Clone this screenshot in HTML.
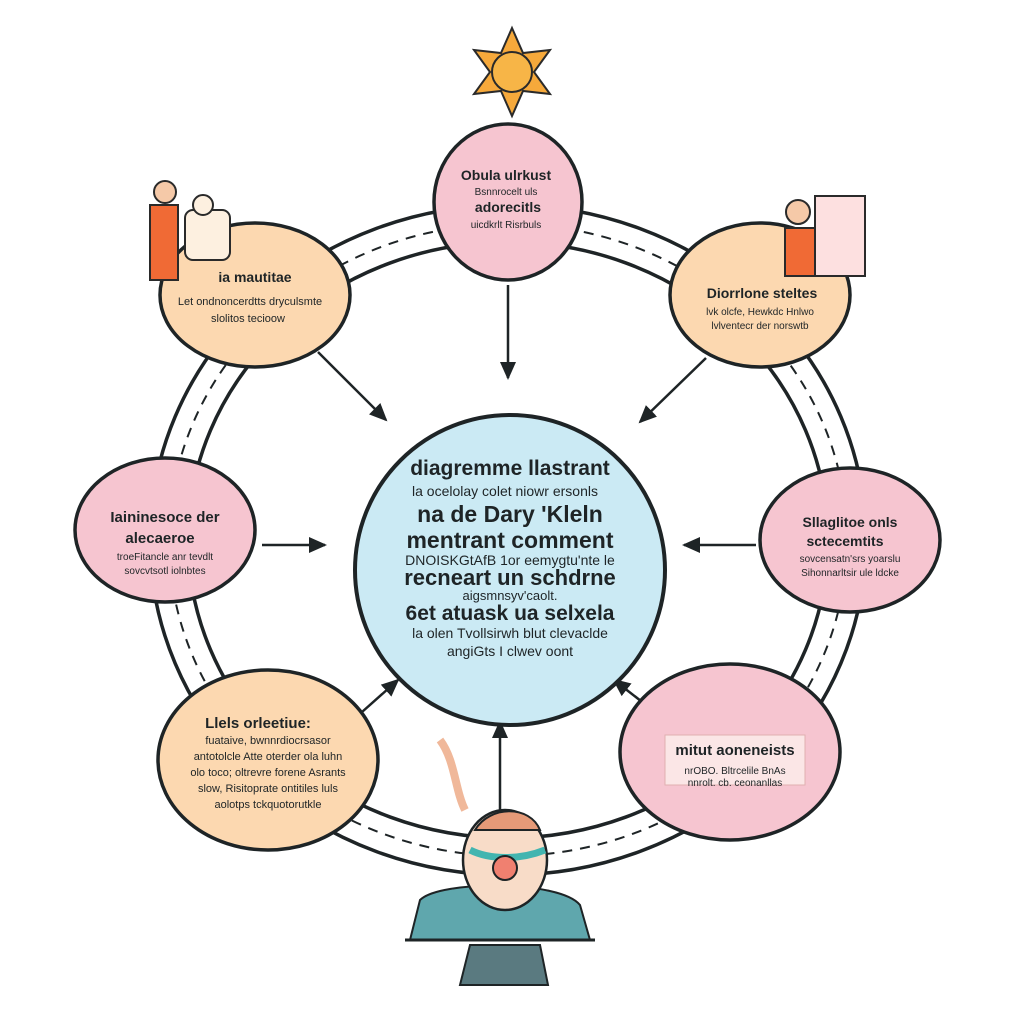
<!DOCTYPE html>
<html><head><meta charset="utf-8"><style>
html,body{margin:0;padding:0;background:#fff;width:1024px;height:1024px;overflow:hidden}
text{font-family:"Liberation Sans",sans-serif;fill:#1e2426;text-anchor:middle}
.b{font-weight:bold}
</style></head><body>
<svg width="1024" height="1024" viewBox="0 0 1024 1024" xmlns="http://www.w3.org/2000/svg">
<defs><marker id="ah" markerWidth="10" markerHeight="10" refX="8" refY="5" orient="auto" markerUnits="userSpaceOnUse"><path d="M0,0 L10,5 L0,10 z" fill="#1e2426"/></marker>
<marker id="ah2" markerWidth="20" markerHeight="20" refX="16" refY="10" orient="auto" markerUnits="userSpaceOnUse"><path d="M0,2 L18,10 L0,18 z" fill="#1e2426"/></marker></defs>
<!-- ring -->
<ellipse cx="508" cy="540" rx="358" ry="335" fill="none" stroke="#1e2426" stroke-width="3.5"/>
<ellipse cx="508" cy="540" rx="320" ry="298" fill="none" stroke="#1e2426" stroke-width="3.5"/>
<ellipse cx="508" cy="540" rx="339" ry="316" fill="none" stroke="#1e2426" stroke-width="2" stroke-dasharray="10 8"/>
<!-- sun -->
<g transform="translate(512,72)">
<polygon points="0,-44 11,-19 38,-22 22,0 38,22 11,19 0,44 -11,19 -38,22 -22,0 -38,-22 -11,-19" fill="#f6a93b" stroke="#2a2a2a" stroke-width="2"/>
<circle r="20" fill="#f7b547" stroke="#2a2a2a" stroke-width="2"/></g>
<!-- arrows -->
<g stroke="#1e2426" stroke-width="2.5" fill="none" marker-end="url(#ah2)">
<line x1="508" y1="285" x2="508" y2="378"/>
<line x1="318" y1="352" x2="386" y2="420"/>
<line x1="706" y1="358" x2="640" y2="422"/>
<line x1="262" y1="545" x2="325" y2="545"/>
<line x1="756" y1="545" x2="684" y2="545"/>
<line x1="362" y1="712" x2="398" y2="680"/>
<line x1="655" y1="712" x2="614" y2="680"/>
<line x1="500" y1="810" x2="500" y2="722"/>
</g>
<!-- center -->
<circle cx="510" cy="570" r="155" fill="#cbeaf4" stroke="#1e2426" stroke-width="4"/>
<text class="b" x="510" y="475" font-size="21">diagremme llastrant</text>
<text x="505" y="496" font-size="14">la ocelolay colet niowr ersonls</text>
<text class="b" x="510" y="522" font-size="23">na de Dary 'Kleln</text>
<text class="b" x="510" y="548" font-size="23">mentrant comment</text>
<text x="510" y="565" font-size="14">DNOISKGtAfB 1or eemygtu'nte le</text>
<text class="b" x="510" y="585" font-size="22">recneart un schdrne</text>
<text x="510" y="600" font-size="13">aigsmnsyv'caolt.</text>
<text class="b" x="510" y="620" font-size="21">6et atuask ua selxela</text>
<text x="510" y="638" font-size="14">la olen Tvollsirwh blut clevaclde</text>
<text x="510" y="656" font-size="14">angiGts I clwev oont</text>
<!-- nodes -->
<g stroke="#1e2426" stroke-width="3.5">
<ellipse cx="508" cy="202" rx="74" ry="78" fill="#f6c5d0"/>
<ellipse cx="255" cy="295" rx="95" ry="72" fill="#fcd8b0"/>
<ellipse cx="760" cy="295" rx="90" ry="72" fill="#fcd8b0"/>
<ellipse cx="165" cy="530" rx="90" ry="72" fill="#f6c5d0"/>
<ellipse cx="850" cy="540" rx="90" ry="72" fill="#f6c5d0"/>
<ellipse cx="268" cy="760" rx="110" ry="90" fill="#fcd8b0"/>
<ellipse cx="730" cy="752" rx="110" ry="88" fill="#f6c5d0"/>
</g>
<text class="b" x="506" y="180" font-size="14">Obula ulrkust</text>
<text x="506" y="195" font-size="10">Bsnnrocelt uls</text>
<text class="b" x="508" y="212" font-size="14">adorecitls</text>
<text x="506" y="228" font-size="10">uicdkrlt Risrbuls</text>
<text class="b" x="255" y="282" font-size="14">ia mautitae</text>
<text x="250" y="305" font-size="11">Let ondnoncerdtts dryculsmte</text>
<text x="248" y="322" font-size="11">slolitos tecioow</text>
<text class="b" x="762" y="298" font-size="14">Diorrlone steltes</text>
<text x="760" y="315" font-size="10">lvk olcfe, Hewkdc Hnlwo</text>
<text x="760" y="329" font-size="10">lvlventecr der norswtb</text>
<text class="b" x="165" y="522" font-size="15">Iaininesoce der</text>
<text class="b" x="160" y="543" font-size="15">alecaeroe</text>
<text x="165" y="560" font-size="10">troeFitancle anr tevdlt</text>
<text x="165" y="574" font-size="10">sovcvtsotl iolnbtes</text>
<text class="b" x="850" y="527" font-size="14">Sllaglitoe onls</text>
<text class="b" x="845" y="546" font-size="14">sctecemtits</text>
<text x="850" y="562" font-size="10">sovcensatn'srs yoarslu</text>
<text x="850" y="576" font-size="10">Sihonnarltsir ule ldcke</text>
<text class="b" x="258" y="728" font-size="15">Llels orleetiue:</text>
<text x="268" y="744" font-size="11">fuataive, bwnnrdiocrsasor</text>
<text x="268" y="760" font-size="11">antotolcle Atte oterder ola luhn</text>
<text x="268" y="776" font-size="11">olo toco; oltrevre forene Asrants</text>
<text x="268" y="792" font-size="11">slow, Risitoprate ontitiles luls</text>
<text x="268" y="808" font-size="11">aolotps tckquotorutkle</text>
<rect x="665" y="735" width="140" height="50" fill="#fbe6e6" stroke="#e0b0b0"/>
<text class="b" x="735" y="755" font-size="15">mitut aoneneists</text>
<text x="735" y="774" font-size="10">nrOBO. Bltrcelile BnAs</text>
<text x="735" y="786" font-size="10">nnrolt.   cb. ceonanllas</text>
<!-- people icons -->
<rect x="150" y="205" width="28" height="75" fill="#f06a35" stroke="#2a2a2a" stroke-width="2"/>
<circle cx="165" cy="192" r="11" fill="#f5c9a8" stroke="#2a2a2a" stroke-width="2"/>
<rect x="185" y="210" width="45" height="50" rx="8" fill="#fdf0e0" stroke="#2a2a2a" stroke-width="2"/>
<circle cx="203" cy="205" r="10" fill="#fdf0e0" stroke="#2a2a2a" stroke-width="2"/>
<rect x="815" y="196" width="50" height="80" fill="#fde0e0" stroke="#2a2a2a" stroke-width="2"/>
<rect x="785" y="228" width="30" height="48" fill="#f06a35" stroke="#2a2a2a" stroke-width="2"/>
<circle cx="798" cy="212" r="12" fill="#f5c9a8" stroke="#2a2a2a" stroke-width="2"/>
<!-- bottom person -->
<path d="M440,740 C455,760 455,790 465,810" stroke="#f0b89a" stroke-width="8" fill="none"/>
<path d="M410,940 L420,900 C440,880 560,880 580,905 L590,940 Z" fill="#5fa7ad" stroke="#1e2426" stroke-width="2"/>
<path d="M460,985 L470,945 L540,945 L548,985 Z" fill="#5a7a80" stroke="#1e2426" stroke-width="2"/>
<line x1="405" y1="940" x2="595" y2="940" stroke="#1e2426" stroke-width="3"/>
<ellipse cx="505" cy="860" rx="42" ry="50" fill="#f8dcc8" stroke="#1e2426" stroke-width="2.5"/>
<path d="M475,830 C490,805 530,805 540,830 Z" fill="#e59a78" stroke="#1e2426" stroke-width="2"/>
<path d="M470,850 C490,860 520,860 545,850" stroke="#42b5b0" stroke-width="7" fill="none"/>
<ellipse cx="505" cy="868" rx="12" ry="12" fill="#f08070" stroke="#1e2426" stroke-width="2"/>
</svg>
</body></html>
